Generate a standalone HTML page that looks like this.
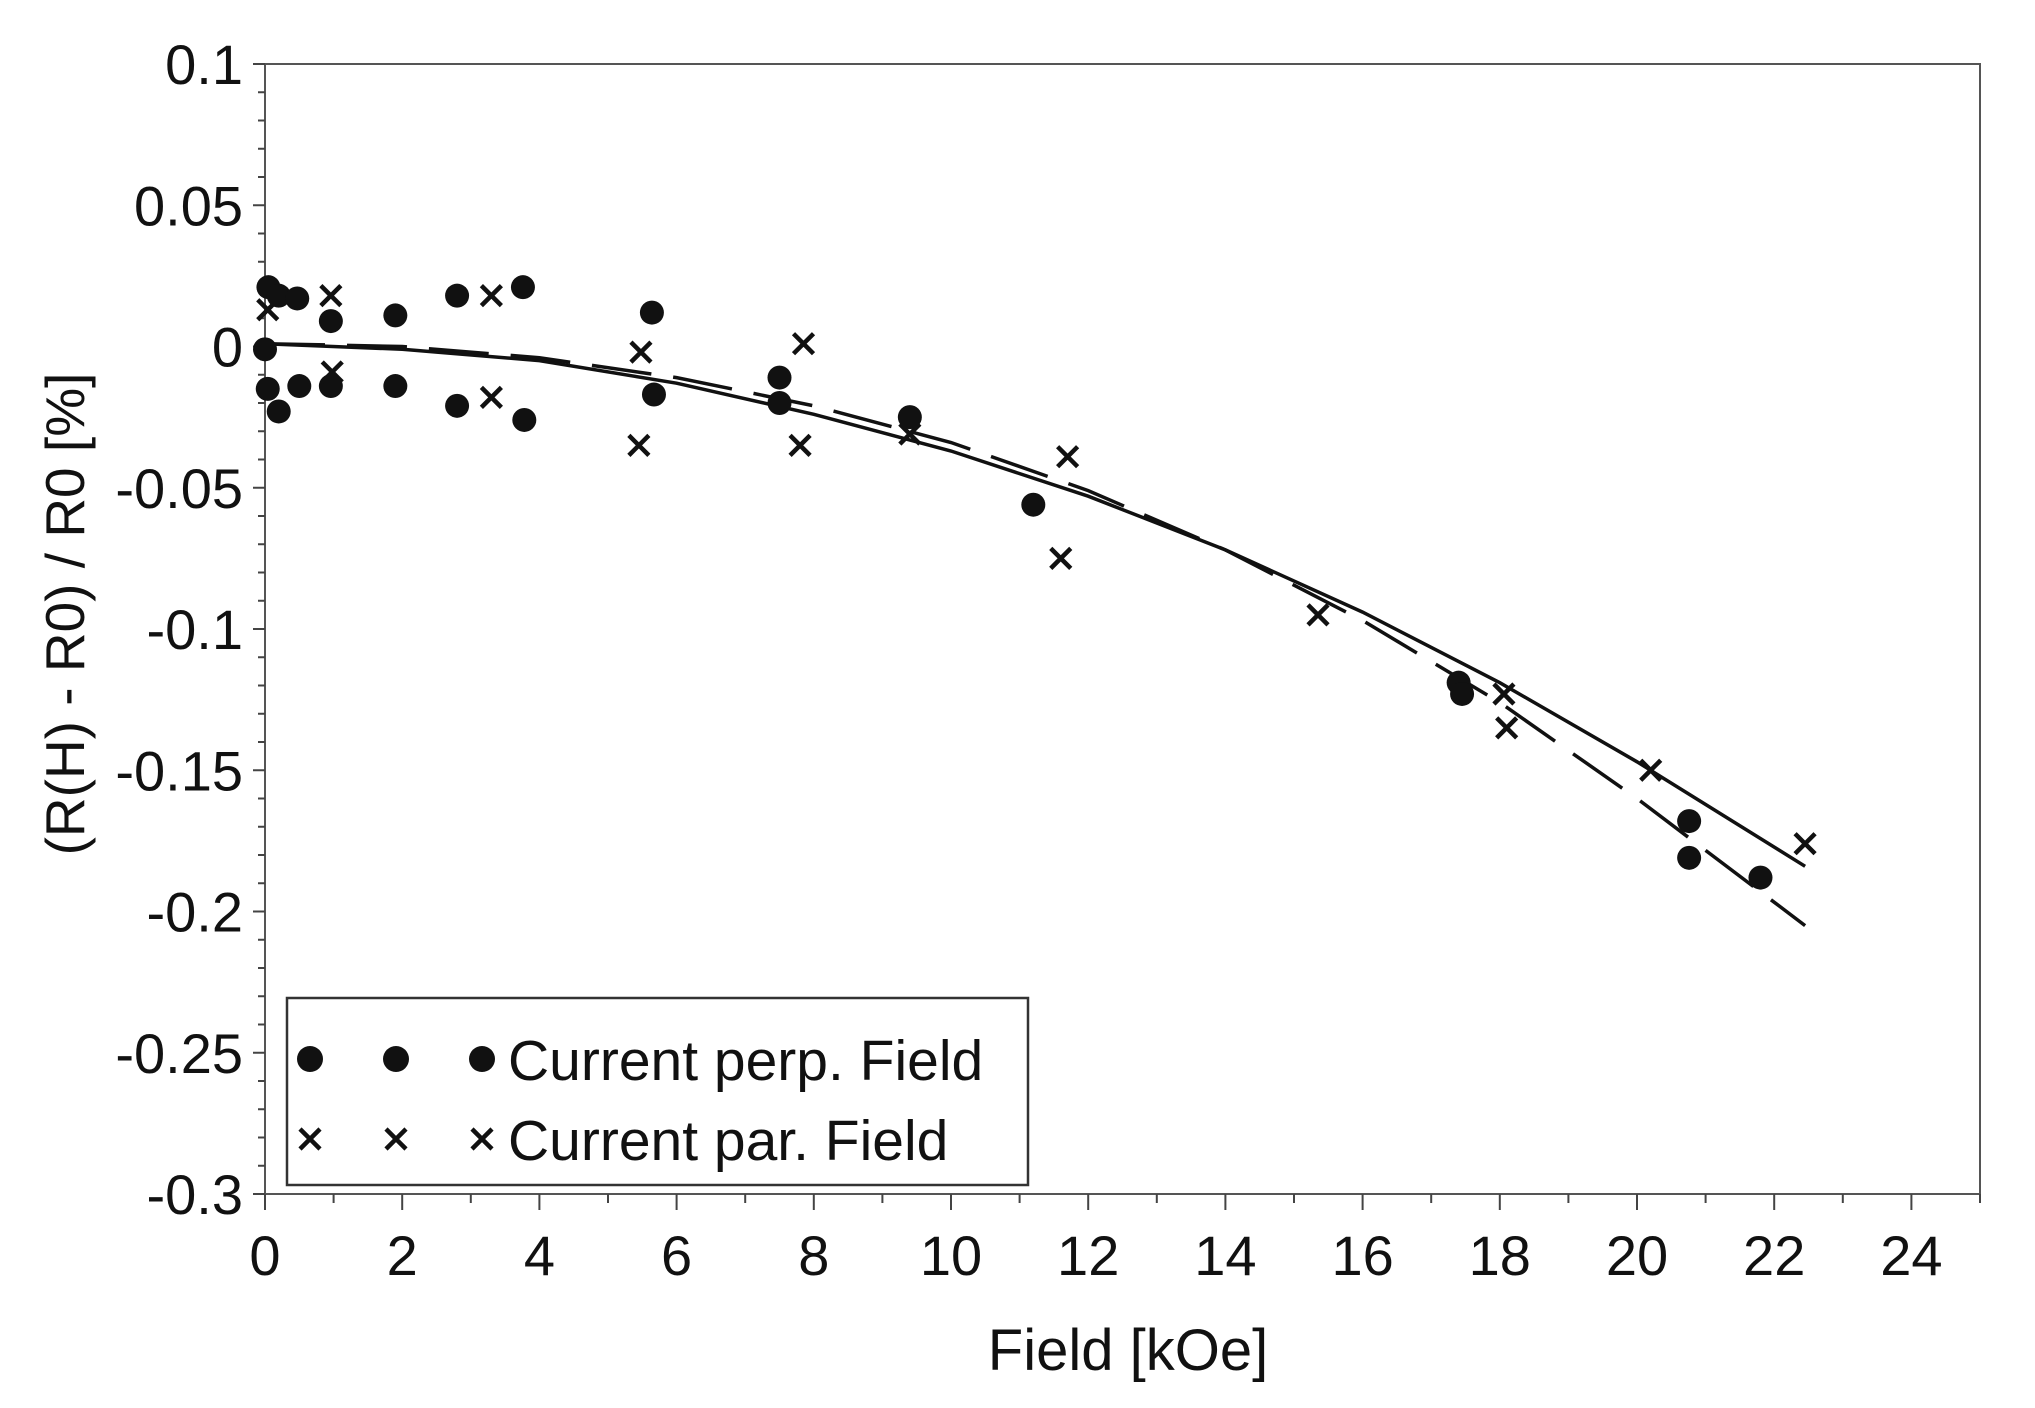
<!DOCTYPE html>
<html><head><meta charset="utf-8"><style>
html,body{margin:0;padding:0;background:#fff;}
svg{display:block;font-family:"Liberation Sans",Arial,sans-serif;}
</style></head><body>
<svg id="chart" width="2035" height="1408" viewBox="0 0 2035 1408">
<g id="plot"></g>
</svg>
<script>
const xTicks=[0,2,4,6,8,10,12,14,16,18,20,22,24];
const yTicks=[0.1,0.05,0,-0.05,-0.1,-0.15,-0.2,-0.25,-0.3];
const yTickLabels=["0.1","0.05","0","-0.05","-0.1","-0.15","-0.2","-0.25","-0.3"];
const perpX=[0.05,0.2,0.47,0.96,1.9,2.8,3.76,5.64,5.67,7.5,7.5,9.4,11.2,17.4,17.45,20.76,20.76,21.8,0.04,0.2,0.5,0.96,1.9,2.8,3.78,0.0];
const perpY=[0.021,0.018,0.017,0.009,0.011,0.018,0.021,0.012,-0.017,-0.011,-0.02,-0.025,-0.056,-0.119,-0.123,-0.168,-0.181,-0.188,-0.015,-0.023,-0.014,-0.014,-0.014,-0.021,-0.026,-0.001];
const parX=[0.04,0.96,3.3,0.98,3.3,5.48,5.45,7.85,7.8,9.4,11.7,11.6,15.35,18.06,18.1,20.2,22.45];
const parY=[0.013,0.018,0.018,-0.009,-0.018,-0.002,-0.035,0.001,-0.035,-0.031,-0.039,-0.075,-0.095,-0.123,-0.135,-0.150,-0.176];
const fitPerpX=[0,2,4,6,8,10,12,14,16,18,20,22.45];
const fitPerpY=[0.001,-0.001,-0.005,-0.013,-0.024,-0.037,-0.053,-0.072,-0.094,-0.119,-0.147,-0.184];
const fitParX=[0,2,4,6,8,10,12,14,16,18,20,22.45];
const fitParY=[0.001,0.0,-0.004,-0.011,-0.021,-0.034,-0.051,-0.072,-0.097,-0.126,-0.160,-0.205];

const L=265,R=1980,T=64,B=1194,X0=0,X1=25,Y0=-0.3,Y1=0.1;
const sx=v=>L+(v-X0)/(X1-X0)*(R-L);
const sy=v=>B-(v-Y0)/(Y1-Y0)*(B-T);
const NS="http://www.w3.org/2000/svg";
const g=document.getElementById('plot');
function mk(t,a,p){const e=document.createElementNS(NS,t);for(const k in a)e.setAttribute(k,a[k]);(p||g).appendChild(e);return e;}

let fr=mk('rect',{x:L,y:T,width:R-L,height:B-T,fill:'none',stroke:'#555','stroke-width':2});



for(let v=0;v<=25;v++){
  const major=v%2===0;
  let t=mk('line',{x1:sx(v),x2:sx(v),y1:B,y2:B+(major?16:9),stroke:'#444','stroke-width':2});
  
  
}
xTicks.forEach(v=>{
  let t=mk('text',{x:sx(v),y:1275,'font-size':56,'text-anchor':'middle',fill:'#111'});
  t.textContent=v;
  
  
});
for(let i=0;i<=40;i++){
  const v=Y0+i*0.01;const major=i%5===0;
  let t=mk('line',{x1:L,x2:L-(major?12:7),y1:sy(v),y2:sy(v),stroke:'#444','stroke-width':2});
  
  
}
yTicks.forEach((v,i)=>{
  let t=mk('text',{x:L-22,y:sy(v)+20,'font-size':56,'text-anchor':'end',fill:'#111'});
  t.textContent=yTickLabels[i];
  
  
});
let xt=mk('text',{x:1128,y:1370,'font-size':58,'text-anchor':'middle',fill:'#111'});
xt.textContent='Field [kOe]';


let yt=mk('text',{x:0,y:0,'font-size':55,'text-anchor':'middle',fill:'#111',transform:'translate(84,614) rotate(-90)'});
yt.textContent='(R(H) - R0) / R0  [%]';



function path(xs,ys){return xs.map((x,i)=>(i?'L':'M')+sx(x).toFixed(1)+' '+sy(ys[i]).toFixed(1)).join(' ');}
let f1=mk('path',{d:path(fitPerpX,fitPerpY),fill:'none',stroke:'#111','stroke-width':3.5});


let f2=mk('path',{d:path(fitParX,fitParY),fill:'none',stroke:'#111','stroke-width':3.5,'stroke-dasharray':'60 22'});



function cross(cx,cy,p){const s=10;return mk('path',{d:`M${cx-s} ${cy-s}L${cx+s} ${cy+s}M${cx-s} ${cy+s}L${cx+s} ${cy-s}`,stroke:'#111','stroke-width':4.5,fill:'none'},p);}
perpX.forEach((x,i)=>{
  let c=mk('circle',{cx:sx(x),cy:sy(perpY[i]),r:12,fill:'#111'});
  
  
});
parX.forEach((x,i)=>{
  let c=cross(sx(x),sy(parY[i]));
  
  
});

const lg=mk('g',{});


mk('rect',{x:287,y:998,width:741,height:187,fill:'#fff',stroke:'#333','stroke-width':2.5},lg);
[310,396,482].forEach(x=>{
  let c=mk('circle',{cx:x,cy:1059,r:13,fill:'#111'},lg);
  
  
  let k=cross(x,1139,lg);
  
  
});
let l1=mk('text',{x:508,y:1080,'font-size':57,fill:'#111'},lg);
l1.textContent='Current perp. Field';


let l2=mk('text',{x:508,y:1160,'font-size':57,fill:'#111'},lg);
l2.textContent='Current par. Field';


</script>
</body></html>
